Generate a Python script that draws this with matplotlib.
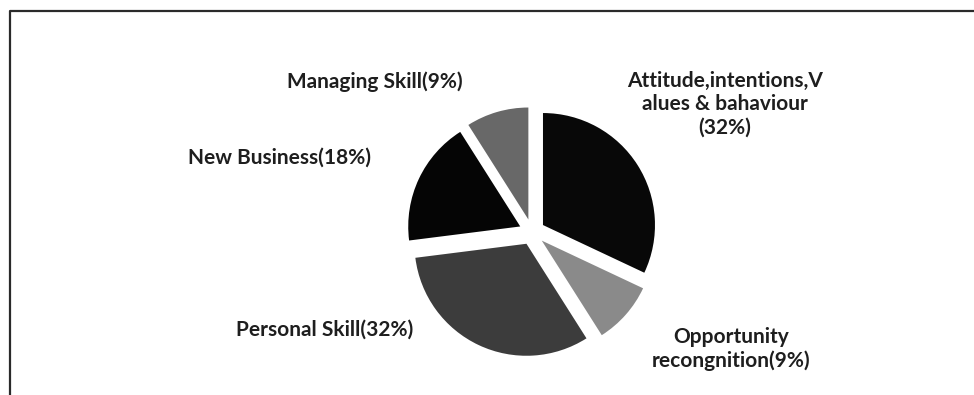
import matplotlib
matplotlib.use('Agg')
import matplotlib.pyplot as plt
from matplotlib.lines import Line2D

plt.rcParams.update({
    'font.family': ['Lato', 'DejaVu Sans'],
    'font.weight': 'bold',
    'font.size': 15,
})

# slices, clockwise from 12 o'clock
labels = ['Attitude,intentions,V\nalues & bahaviour\n(32%)',
          'Opportunity\nrecongnition(9%)',
          'Personal Skill(32%)',
          'New Business(18%)',
          'Managing Skill(9%)']
shares = [32, 9, 32, 18, 9]
colors = ['#080808', '#8a8a8a', '#3c3c3c', '#050505', '#686868']

# label anchors in pixel space (x from left, y from top)
label_pos = [(725, 104), (731, 349), (325, 330), (280, 158), (375, 82)]

W, H = 974, 395
fig = plt.figure(figsize=(W / 100, H / 100), dpi=100)
ax = fig.add_axes([0, 0, 1, 1])

# explode is an absolute offset in data units (pixels here)
ax.pie(shares, colors=colors, startangle=90, counterclock=False,
       center=(532, H - 232), radius=112, explode=[13] * len(shares),
       wedgeprops={'linewidth': 0}, frame=True)
ax.set_xlim(0, W)
ax.set_ylim(0, H)
ax.set_aspect('equal')
ax.axis('off')

for lab, (x, y) in zip(labels, label_pos):
    ax.text(x, H - y, lab, ha='center', va='center', color='#1e1e1e',
            linespacing=1.2, fontweight='bold')

# page frame (top and left edges only, rest is cropped)
fig.add_artist(Line2D([9.5 / W, 9.5 / W, 1.0], [0.0, 1 - 10.5 / H, 1 - 10.5 / H],
                      transform=fig.transFigure, color='#2a2a2a', linewidth=1.6))

fig.savefig('out.png', dpi=100, facecolor='white')
